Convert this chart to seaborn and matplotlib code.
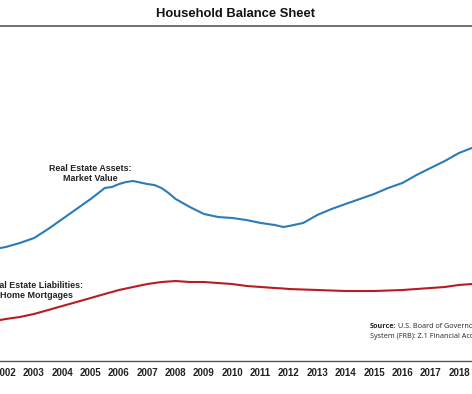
import numpy as np
import pandas as pd
import seaborn as sns
import matplotlib.pyplot as plt

# quarterly-ish time points (fractional years)
years = [2001.8, 2002.0, 2002.5, 2003.0, 2003.5, 2004.0, 2004.5, 2005.0, 2005.5, 2005.75,
         2006.0, 2006.25, 2006.5, 2007.0, 2007.25, 2007.5, 2007.75, 2008.0, 2008.5, 2009.0,
         2009.5, 2010.0, 2010.5, 2011.0, 2011.5, 2011.8, 2012.0, 2012.5, 2013.0, 2013.5,
         2014.0, 2014.5, 2015.0, 2015.5, 2016.0, 2016.5, 2017.0, 2017.5, 2018.0, 2018.45]

# $ trillions
assets = [15.69, 15.83, 16.39, 17.08, 18.33, 19.72, 21.11, 22.50, 24.03, 24.17,
          24.58, 24.86, 25.00, 24.58, 24.44, 24.03, 23.33, 22.50, 21.39, 20.42,
          20.00, 19.86, 19.58, 19.17, 18.89, 18.61, 18.75, 19.17, 20.28, 21.11,
          21.81, 22.50, 23.19, 24.03, 24.72, 25.83, 26.81, 27.78, 28.89, 29.58]

mortgages = [5.69, 5.83, 6.11, 6.53, 7.08, 7.64, 8.19, 8.75, 9.31, 9.58,
             9.86, 10.07, 10.28, 10.69, 10.83, 10.97, 11.04, 11.11, 10.97, 10.97,
             10.83, 10.69, 10.42, 10.28, 10.14, 10.07, 10.00, 9.93, 9.86, 9.79,
             9.72, 9.72, 9.72, 9.79, 9.86, 10.00, 10.14, 10.28, 10.56, 10.69]

tick_years = list(range(2002, 2019))

sns.set_style("white")
plt.rcParams['font.family'] = ['Liberation Sans', 'DejaVu Sans']

fig = plt.figure(figsize=(4.72, 3.94), dpi=100)
ax = fig.add_axes([0, 33 / 394, 1, 335 / 394])

sns.lineplot(x=years, y=assets, color="#2b7bb9", linewidth=1.5, ax=ax)
sns.lineplot(x=years, y=mortgages, color="#b81c22", linewidth=1.5, ax=ax)

ax.set_xticks(tick_years)
ax.set_xticklabels([str(y) for y in tick_years], fontsize=7, fontweight="bold", color="#222222")
ax.set_yticks([])
ax.set_xlim(2001.8, 2018.46)
ax.set_ylim(0, 46.53)
ax.tick_params(axis="x", direction="inout", length=4, width=0.8, color="#555555", pad=3)
for side in ["left", "right"]:
    ax.spines[side].set_visible(False)
ax.spines["bottom"].set_color("#555555")
ax.spines["bottom"].set_linewidth(1.0)
ax.spines["top"].set_color("#666666")
ax.spines["top"].set_linewidth(1.3)

ax.text(2004.98, 26.0, "Real Estate Assets:\nMarket Value", ha="center", va="center",
        fontsize=6.4, fontweight="bold", color="#222222", linespacing=1.15)
ax.text(2003.07, 9.8, "Real Estate Liabilities:\nHome Mortgages", ha="center", va="center",
        fontsize=6.4, fontweight="bold", color="#222222", linespacing=1.15)

fig.text(0.5, 1 - 14 / 394, "Household Balance Sheet", ha="center", va="center",
         fontsize=9.4, fontweight="bold", color="#111111")

src_font = ["Open Sans", "DejaVu Sans"]
fig.text(370 / 472, 1 - 327 / 394, "Source:", ha="left", va="center", fontsize=5.2,
         fontweight="bold", color="#222222", family=src_font)
fig.text(398 / 472, 1 - 327 / 394, "U.S. Board of Governors of the Federal Reserve",
         ha="left", va="center", fontsize=5.2, color="#222222", family=src_font)
fig.text(370 / 472, 1 - 337 / 394, "System (FRB): Z.1 Financial Accounts of the United States",
         ha="left", va="center", fontsize=5.2, color="#222222", family=src_font)

fig.savefig("out.png", dpi=100)
